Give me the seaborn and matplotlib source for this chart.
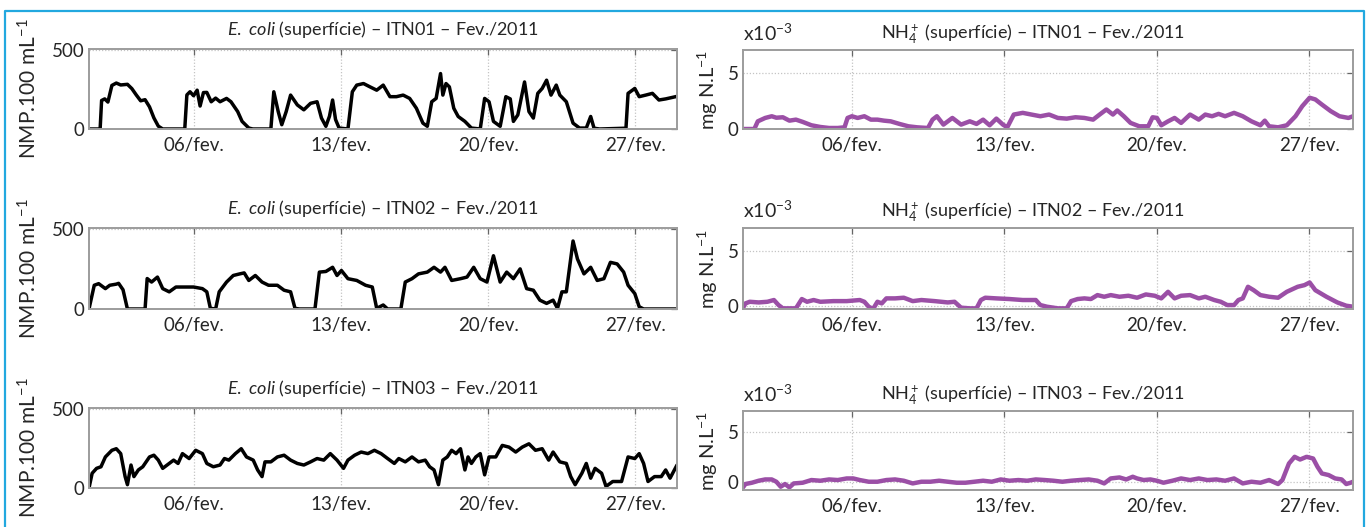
import numpy as np
import pandas as pd
import matplotlib
matplotlib.use("Agg")
import matplotlib.pyplot as plt
from matplotlib.lines import Line2D
import seaborn as sns

# ---------------------------------------------------------------------------
# Surface series, February 2011. Time: days elapsed since 01/02/2011 00:00.
# E. coli in NMP/100 mL; NH4+ in 10^-3 mg N/L.
# ---------------------------------------------------------------------------
ecoli_itn01_dia = [0, 0.53, 0.60, 0.75, 0.90, 1.09, 1.30, 1.51, 1.83, 2.04, 2.25, 2.46, 2.67, 2.88,
                   3.09, 3.30, 3.51, 4.56, 4.66, 4.81, 4.98, 5.15, 5.29, 5.45, 5.61, 5.82, 6.03, 6.24,
                   6.55, 6.76, 7.08, 7.29, 7.61, 7.80, 8.66, 8.80, 9.01, 9.18, 9.39, 9.60, 9.92, 10.23,
                   10.55, 10.86, 11.07, 11.28, 11.45, 11.60, 11.74, 11.91, 12.33, 12.54, 12.75, 13.07,
                   13.38, 13.70, 14.01, 14.33, 14.64, 14.96, 15.27, 15.59, 15.90, 16.11, 16.32, 16.53,
                   16.74, 16.85, 17.00, 17.16, 17.37, 17.58, 17.90, 18.21, 18.63, 18.84, 19.05, 19.26,
                   19.58, 19.85, 20.06, 20.21, 20.42, 20.74, 20.95, 21.16, 21.37, 21.58, 21.79, 22.00,
                   22.25, 22.42, 22.73, 23.05, 23.36, 23.68, 23.89, 24.05, 24.31, 25.57, 25.67, 25.99,
                   26.20, 26.51, 26.83, 27.14, 27.46, 28.00]
ecoli_itn01 = [0, 0, 180, 190, 170, 275, 290, 278, 282, 255, 215, 178, 185, 140,
               70, 18, 0, 0, 215, 235, 210, 245, 145, 230, 231, 172, 195, 172,
               193, 172, 110, 48, 6, 0, 0, 235, 110, 27, 110, 214, 152, 121,
               162, 172, 69, 17, 80, 183, 60, 6, 0, 235, 277, 287,
               266, 245, 277, 204, 204, 214, 193, 131, 37, 17, 172, 193,
               350, 214, 287, 266, 131, 79, 48, 6, 0, 193, 172, 48,
               17, 204, 190, 48, 89, 297, 110, 69, 225, 256, 308, 214,
               277, 214, 172, 37, 6, 6, 79, 5, 0, 5, 225, 256,
               204, 214, 225, 183, 190, 206]

ecoli_itn02_dia = [0, 0.25, 0.46, 0.78, 0.99, 1.30, 1.41, 1.62, 1.83, 2.67, 2.77, 2.98, 3.26, 3.51,
                   3.82, 4.14, 4.56, 4.98, 5.40, 5.61, 5.78, 6.03, 6.20, 6.55, 6.87, 7.18, 7.39, 7.61,
                   7.92, 8.24, 8.55, 8.97, 9.29, 9.60, 9.81, 10.02, 10.76, 10.97, 11.28, 11.60, 11.81,
                   12.02, 12.33, 12.75, 13.17, 13.49, 13.70, 14.01, 14.22, 14.85, 15.06, 15.38, 15.69,
                   16.11, 16.43, 16.74, 16.95, 17.27, 17.69, 18.00, 18.32, 18.63, 18.95, 19.26, 19.58,
                   19.89, 20.21, 20.53, 20.84, 21.16, 21.47, 21.79, 22.10, 22.31, 22.52, 22.73, 23.05,
                   23.26, 23.57, 23.89, 24.20, 24.52, 24.83, 25.15, 25.46, 25.67, 25.99, 26.20, 26.41,
                   28.00]
ecoli_itn02 = [0, 148, 158, 127, 148, 155, 160, 120, 0, 0, 190, 168, 199, 127,
               107, 137, 137, 137, 127, 107, 4, 0, 107, 168, 209, 219, 225, 178,
               209, 168, 148, 148, 117, 107, 4, 0, 0, 230, 234, 260, 209,
               240, 189, 178, 148, 137, 4, 25, 0, 0, 168, 189, 219,
               230, 260, 230, 260, 178, 189, 199, 260, 189, 168, 332, 168,
               230, 189, 250, 127, 117, 55, 35, 55, 4, 107, 107, 424,
               312, 219, 260, 178, 189, 291, 281, 230, 148, 96, 14, 0,
               0]

ecoli_itn03_dia = [0, 0.15, 0.36, 0.57, 0.78, 1.09, 1.30, 1.51, 1.72, 1.83, 2.00, 2.14, 2.35, 2.56,
                   2.88, 3.09, 3.30, 3.51, 3.72, 4.03, 4.24, 4.45, 4.77, 5.08, 5.40, 5.61, 5.92, 6.24,
                   6.45, 6.66, 6.97, 7.25, 7.50, 7.82, 8.03, 8.24, 8.38, 8.66, 8.97, 9.29, 9.60, 9.92,
                   10.23, 10.55, 10.86, 11.18, 11.49, 11.81, 12.12, 12.33, 12.65, 12.96, 13.28, 13.59,
                   13.91, 14.22, 14.54, 14.75, 15.06, 15.38, 15.69, 16.01, 16.22, 16.43, 16.64, 16.85,
                   17.06, 17.27, 17.48, 17.69, 17.90, 18.05, 18.21, 18.42, 18.63, 18.84, 19.05, 19.37,
                   19.68, 20.00, 20.32, 20.63, 20.95, 21.26, 21.58, 21.89, 22.10, 22.42, 22.73, 22.94,
                   23.15, 23.47, 23.68, 23.89, 24.10, 24.41, 24.62, 24.94, 25.36, 25.67, 25.99, 26.20,
                   26.41, 26.62, 26.93, 27.25, 27.46, 27.67, 28.00]
ecoli_itn03 = [0, 93, 124, 134, 196, 238, 248, 217, 72, 21, 145, 72, 114, 134,
               196, 207, 176, 124, 145, 176, 155, 217, 186, 238, 217, 155, 134, 145,
               186, 176, 217, 248, 196, 176, 114, 72, 165, 165, 196, 207, 176, 155,
               145, 165, 186, 176, 217, 176, 124, 176, 207, 227, 217, 238,
               217, 186, 155, 186, 165, 196, 165, 176, 134, 114, 21, 176,
               196, 238, 217, 248, 114, 196, 155, 196, 217, 83, 196, 196,
               269, 258, 227, 258, 279, 238, 248, 176, 227, 165, 155, 72,
               21, 93, 155, 62, 124, 93, 10, 41, 41, 196, 186, 217,
               155, 41, 72, 72, 114, 62, 145]

nh4_itn01_dia = [0, 0.52, 0.68, 1.02, 1.32, 1.53, 1.83, 2.13, 2.43, 2.74, 3.14, 3.55, 3.95, 4.35,
                 4.66, 4.80, 5.00, 5.26, 5.57, 5.87, 6.17, 6.47, 6.78, 7.18, 7.59, 7.99, 8.49, 8.70,
                 8.90, 9.20, 9.61, 10.01, 10.41, 10.72, 11.02, 11.32, 11.63, 11.93, 12.13, 12.43,
                 12.84, 13.24, 13.65, 14.05, 14.45, 14.86, 15.26, 15.67, 16.07, 16.37, 16.68, 16.98,
                 17.18, 17.48, 17.79, 18.19, 18.60, 18.80, 19.00, 19.20, 19.51, 19.81, 20.11, 20.52,
                 20.92, 21.22, 21.53, 21.83, 22.13, 22.54, 22.94, 23.34, 23.75, 23.95, 24.15, 24.56,
                 24.96, 25.36, 25.67, 26.01, 26.27, 26.57, 26.98, 27.38, 27.79, 28.00]
nh4_itn01 = [0, 0, 0.68, 0.98, 1.13, 1.00, 1.04, 0.74, 0.83, 0.63, 0.33, 0.18, 0.09, 0.09,
             0.15, 0.98, 1.13, 0.98, 1.13, 0.83, 0.83, 0.74, 0.68, 0.45, 0.24, 0.15, 0.09, 0.83,
             1.13, 0.39, 0.98, 0.39, 0.68, 0.45, 0.83, 0.33, 0.92, 0.39, 0.15, 1.28,
             1.43, 1.28, 1.13, 1.28, 0.98, 0.92, 1.04, 0.98, 0.83, 1.28, 1.73, 1.28,
             1.64, 1.13, 0.54, 0.24, 0.24, 1.04, 0.98, 0.33, 0.68, 0.98, 0.54, 1.28,
             0.83, 1.28, 1.13, 1.34, 1.13, 1.43, 1.13, 0.68, 0.33, 0.74, 0.24, 0.15,
             0.33, 1.13, 2.02, 2.77, 2.62, 2.17, 1.58, 1.13, 0.98, 1.13]

nh4_itn02_dia = [0, 0.11, 0.31, 0.72, 1.12, 1.42, 1.63, 1.83, 2.43, 2.70, 2.94, 3.24, 3.55, 4.15,
                 4.76, 5.36, 5.57, 5.77, 5.97, 6.17, 6.37, 6.58, 6.98, 7.38, 7.79, 8.19, 8.80, 9.40,
                 9.71, 10.01, 10.41, 10.72, 10.92, 11.12, 11.63, 12.23, 12.84, 13.44, 13.65, 13.95,
                 14.45, 14.86, 15.06, 15.36, 15.67, 15.97, 16.27, 16.58, 16.88, 17.28, 17.69, 18.09,
                 18.49, 18.90, 19.20, 19.51, 19.81, 20.11, 20.52, 20.92, 21.22, 21.63, 21.93, 22.23,
                 22.54, 22.74, 22.94, 23.18, 23.44, 23.75, 24.15, 24.56, 24.96, 25.46, 25.77, 26.01,
                 26.27, 26.78, 27.28, 27.69, 28.00]
nh4_itn02 = [-0.20, 0.21, 0.36, 0.30, 0.36, 0.52, 0.06, -0.24, -0.24, 0.61, 0.36, 0.52, 0.36, 0.42,
             0.42, 0.52, 0.36, -0.09, -0.30, 0.36, 0.21, 0.67, 0.67, 0.73, 0.42, 0.52, 0.42, 0.30,
             0.36, -0.18, -0.24, -0.24, 0.52, 0.73, 0.67, 0.61, 0.52, 0.52, 0.06, -0.09,
             -0.24, -0.24, 0.42, 0.61, 0.67, 0.61, 0.97, 0.82, 0.97, 0.82, 0.91, 0.73,
             1.03, 0.91, 0.67, 1.27, 0.67, 0.91, 0.97, 0.67, 0.82, 0.52, 0.36, 0.06,
             0.06, 0.52, 0.67, 1.73, 1.42, 0.97, 0.82, 0.73, 1.27, 1.73, 1.88, 2.12,
             1.42, 0.82, 0.30, 0.00, -0.09]

nh4_itn03_dia = [0, 0.11, 0.41, 0.72, 1.02, 1.32, 1.53, 1.73, 1.93, 2.13, 2.33, 2.74, 3.14, 3.55,
                 3.95, 4.35, 4.76, 5.06, 5.36, 5.77, 6.17, 6.58, 6.98, 7.38, 7.79, 8.19, 8.60, 9.00,
                 9.40, 9.81, 10.21, 10.62, 11.02, 11.42, 11.83, 12.23, 12.64, 13.04, 13.44, 13.85,
                 14.25, 14.66, 15.06, 15.46, 15.87, 16.27, 16.58, 16.88, 17.28, 17.59, 17.89, 18.09,
                 18.39, 18.70, 19.00, 19.30, 19.71, 20.11, 20.52, 20.92, 21.32, 21.73, 22.13, 22.54,
                 22.94, 23.34, 23.75, 24.15, 24.56, 24.76, 25.06, 25.32, 25.57, 25.87, 26.17, 26.37,
                 26.57, 26.88, 27.18, 27.48, 27.69, 27.89, 28.00]
nh4_itn03 = [-0.57, -0.23, -0.10, 0.10, 0.23, 0.23, 0.00, -0.50, -0.23, -0.57, -0.17, -0.10, 0.17, 0.10,
             0.23, 0.17, 0.33, 0.33, 0.17, 0.00, 0.00, 0.17, 0.23, 0.10, -0.17, 0.00, 0.00, 0.10,
             0.00, -0.10, -0.10, 0.00, 0.10, 0.00, 0.23, 0.10, 0.17, 0.10, 0.23, 0.17,
             0.10, 0.00, 0.10, 0.17, 0.23, 0.10, -0.17, 0.33, 0.43, 0.23, 0.50, 0.33,
             0.17, 0.23, 0.10, -0.10, 0.10, 0.33, 0.17, 0.33, 0.17, 0.23, 0.10, 0.33,
             -0.17, 0.00, -0.10, 0.17, -0.23, 0.17, 1.83, 2.50, 2.23, 2.50, 2.33, 1.50,
             0.83, 0.67, 0.33, 0.23, -0.23, -0.10, 0.00]

estacoes = ["ITN01", "ITN02", "ITN03"]
ecoli_series = [(ecoli_itn01_dia, ecoli_itn01), (ecoli_itn02_dia, ecoli_itn02), (ecoli_itn03_dia, ecoli_itn03)]
nh4_series = [(nh4_itn01_dia, nh4_itn01), (nh4_itn02_dia, nh4_itn02), (nh4_itn03_dia, nh4_itn03)]

inicio = pd.Timestamp("2011-02-01")
fim = pd.Timestamp("2011-03-01")
datas_marcadas = ["2011-02-06", "2011-02-13", "2011-02-20", "2011-02-27"]
rotulos_x = ["06/fev.", "13/fev.", "20/fev.", "27/fev."]
ecoli_yticks = [0, 500]
nh4_yticks = [0, 5]

# ---------------------------------------------------------------------------
sns.set_theme(style="white")
plt.rcParams["font.family"] = ["Lato", "DejaVu Sans"]
plt.rcParams["mathtext.fontset"] = "custom"
plt.rcParams["mathtext.rm"] = "Lato"
plt.rcParams["mathtext.it"] = "Lato:italic"
plt.rcParams["mathtext.bf"] = "Lato:bold"

TXT = "#262626"
FRAME = "#9c9c9c"
GRID = "#c4c4c4"
PURPLE = "#9b4fa6"

W, H = 1371, 527
fig = plt.figure(figsize=(W / 100, H / 100), dpi=100)


def px_box(x0, y0, x1, y1):
    return [x0 / W, 1 - y1 / H, (x1 - x0) / W, (y1 - y0) / H]


left_rows = [(49, 129), (228, 309), (408, 488)]
right_rows = [(50, 129), (228, 309), (411, 490)]
nh4_ylims = [(0, 7), (-0.3, 7.1), (-0.83, 7.1)]


def style_axes(ax, yticks, ylim):
    ax.set_xlim(inicio, fim)
    ax.set_ylim(*ylim)
    ax.set_xticks(pd.to_datetime(datas_marcadas))
    ax.set_xticklabels(rotulos_x)
    ax.set_yticks(yticks)
    ax.set_yticklabels([str(v) for v in yticks])
    ax.grid(True, linestyle=(0, (1, 1.5)), color=GRID, linewidth=0.9)
    for s in ax.spines.values():
        s.set_visible(True)
        s.set_color(FRAME)
        s.set_linewidth(1.4)
    ax.tick_params(axis="both", direction="in", length=4, width=0.9, color="#666666",
                   top=True, right=True, labelcolor=TXT, labelsize=13.5)
    ax.tick_params(axis="x", pad=6)
    ax.tick_params(axis="y", pad=3)
    ax.set_xlabel("")
    ax.set_facecolor("white")


for i, est in enumerate(estacoes):
    # E. coli
    ax = fig.add_axes(px_box(89, left_rows[i][0], 677, left_rows[i][1]))
    dias, vals = ecoli_series[i]
    t = inicio + pd.to_timedelta(np.asarray(dias), unit="D")
    sns.lineplot(x=t, y=vals, ax=ax, color="black", linewidth=2.5, solid_joinstyle="round")
    style_axes(ax, ecoli_yticks, (0, 505))
    ax.set_ylabel("NMP.100 mL$^{-1}$", fontsize=15, color=TXT, labelpad=8)
    ax.set_title(r"$\mathit{E.\ coli}$ (superfície) – " + est + " – Fev./2011",
                 fontsize=13, color=TXT, pad=10)

    # NH4+
    ax = fig.add_axes(px_box(743, right_rows[i][0], 1353, right_rows[i][1]))
    dias, vals = nh4_series[i]
    t = inicio + pd.to_timedelta(np.asarray(dias), unit="D")
    sns.lineplot(x=t, y=vals, ax=ax, color=PURPLE, linewidth=3.2, solid_joinstyle="round")
    style_axes(ax, nh4_yticks, nh4_ylims[i])
    ax.set_ylabel("mg N.L$^{-1}$", fontsize=14.5, color=TXT, labelpad=6)
    ax.set_title(r"NH$_4^+$ (superfície) – " + est + " – Fev./2011",
                 fontsize=13, color=TXT, pad=8, x=0.475)
    ax.text(0, 1.12, r"x10$^{-3}$", transform=ax.transAxes, ha="left", va="baseline",
            fontsize=14, color=TXT)

# light-blue frame around the panel group
bx0, by0, bx1 = 5 / W, 1 - 11 / H, 1364 / W
fig.add_artist(Line2D([bx0, bx0, bx1, bx1], [0, by0, by0, 0], transform=fig.transFigure,
                      color="#22a8df", linewidth=1.6))

fig.savefig("out.png", dpi=100, facecolor="white")
